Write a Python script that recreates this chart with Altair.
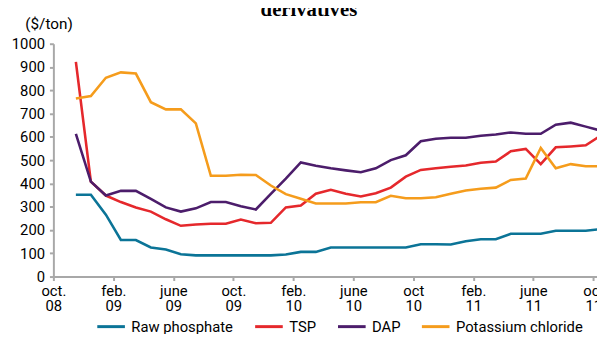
import altair as alt
import pandas as pd

# ---- data ----
series = ["Raw phosphate", "TSP", "DAP", "Potassium chloride"]
colors = ["#0B7497", "#E5282C", "#4C1D6B", "#F59C1C"]

# monthly observations, Nov 2008 .. Oct 2011
months = [f"{y}-{m:02d}" for y in (2008, 2009, 2010, 2011) for m in range(1, 13)
          if "2008-11" <= f"{y}-{m:02d}" <= "2011-10"]

raw_phosphate = [351, 351, 266, 157, 157, 125, 116, 96, 91, 91, 91, 91,
                 91, 91, 95, 106, 106, 125, 125, 125, 125, 125, 125, 139,
                 139, 138, 152, 160, 160, 184, 184, 184, 197, 197, 197, 204]
tsp = [922, 408, 348, 320, 297, 279, 246, 218, 224, 227, 227, 245,
       229, 231, 297, 305, 356, 373, 356, 344, 358, 382, 429, 458,
       465, 472, 477, 489, 494, 538, 548, 483, 555, 559, 564, 606]
dap = [613, 408, 348, 368, 368, 334, 297, 279, 293, 320, 320, 302,
       288, 355, 421, 490, 476, 465, 456, 448, 465, 500, 521, 581,
       592, 596, 596, 605, 610, 619, 613, 613, 652, 661, 644, 627]
potassium_chloride = [765, 775, 854, 877, 872, 749, 718, 718, 658, 433, 433, 437,
                      436, 391, 354, 334, 314, 314, 314, 319, 319, 347, 336, 336,
                      341, 356, 370, 377, 382, 415, 421, 552, 465, 483, 474, 474]

tick_labels = [["oct.", "08"], ["feb.", "09"], ["june", "09"], ["oct.", "09"],
               ["feb.", "10"], ["june", "10"], ["oct", "10"], ["feb.", "11"],
               ["june", "11"], ["oct", "11"]]

# ---- build table ----
rows = []
for name, vals in zip(series, [raw_phosphate, tsp, dap, potassium_chloride]):
    for mo, v in zip(months, vals):
        y, m = int(mo[:4]), int(mo[5:])
        # months since 1 Oct 2008, observation at mid-month
        idx = (y - 2008) * 12 + (m - 10) + 0.5
        rows.append({"month": idx, "series": name, "value": v})
df = pd.DataFrame(rows)

label_js = "[" + ",".join("['%s','%s']" % (a, b) for a, b in tick_labels) + "]"

FONT = "Roboto"
AXIS_GRAY = "#A8A8A8"

lines = alt.Chart(df).mark_line(strokeWidth=2.6, clip=True).encode(
    x=alt.X("month:Q",
            scale=alt.Scale(domain=[0, 36.25], nice=False, zero=False),
            axis=alt.Axis(values=list(range(0, 37, 4)), title=None, grid=False,
                          labelExpr=label_js + "[round(datum.value/4)]",
                          labelLineHeight=15, labelPadding=3, labelAlign="center",
                          labelBaseline="top", labelOverlap=False)),
    y=alt.Y("value:Q",
            scale=alt.Scale(domain=[0, 1000], nice=False),
            axis=alt.Axis(values=list(range(0, 1001, 100)), grid=False, format="d",
                          title="($/ton)", titleAngle=0, titleAlign="left",
                          titleBaseline="middle", titleX=-29, titleY=-20,
                          titleFont=FONT, titleFontSize=15.5, titleFontWeight="normal",
                          titleColor="black", labelPadding=5)),
    color=alt.Color("series:N",
                    scale=alt.Scale(domain=series, range=colors),
                    sort=series,
                    legend=alt.Legend(title=None, orient="none", direction="horizontal",
                                      legendX=43, legendY=271,
                                      symbolType="stroke", symbolSize=784,
                                      symbolStrokeWidth=3, labelFont=FONT,
                                      labelFontSize=15, labelOffset=5,
                                      columnPadding=15, labelColor="black")),
)

title = alt.Chart(pd.DataFrame({"t": ["derivatives"]})).mark_text(
    font="Liberation Serif", fontWeight="bold", fontSize=21,
    align="center", baseline="alphabetic", color="black"
).encode(text="t:N", x=alt.value(259), y=alt.value(-28))

chart = alt.layer(lines, title).properties(
    width=551, height=236,
    autosize=alt.AutoSizeParams(type="none"),
    padding={"left": 46, "top": 34, "right": 0, "bottom": 56},
).configure_view(stroke=None).configure_axis(
    domainColor=AXIS_GRAY, domainWidth=2, tickColor=AXIS_GRAY, tickWidth=2,
    tickSize=4, labelFont=FONT, labelFontSize=15, labelColor="black",
)

chart.save("out.html", embed_options={"renderer": "svg", "actions": False})
